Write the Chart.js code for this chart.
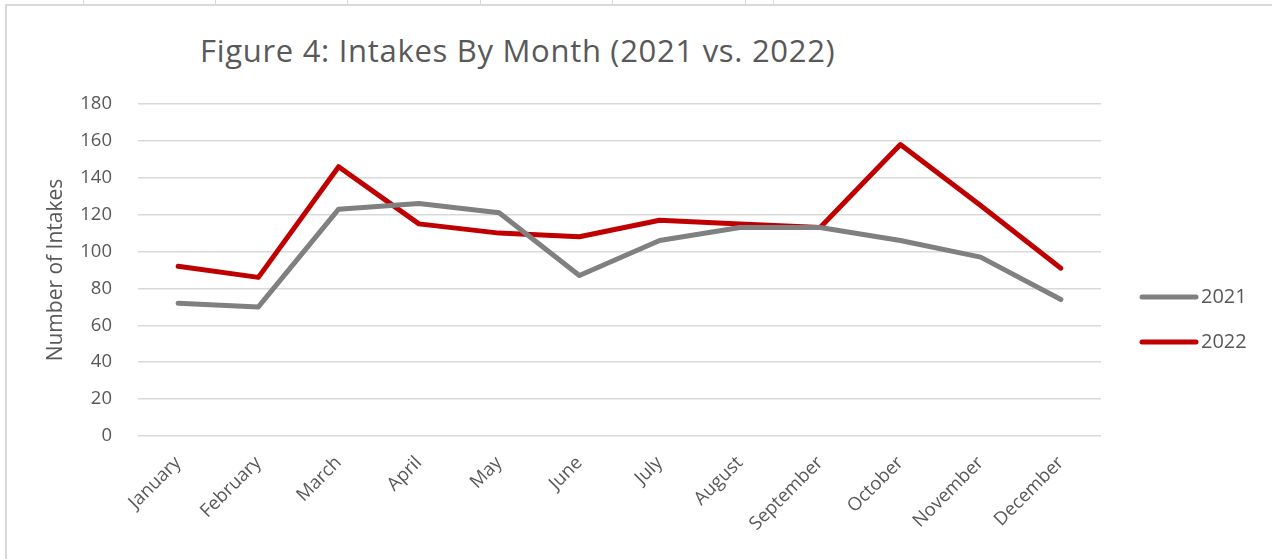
<!DOCTYPE html>
<html lang="en">
<head>
  <meta charset="UTF-8" />
  <title>Figure 4: Intakes By Month</title>
  <script src="https://cdn.jsdelivr.net/npm/chart.js"></script>
  <style>
    html, body { margin: 0; padding: 0; background: #fff; }
    body { width: 1272px; height: 559px; position: relative; overflow: hidden; }
    #frame { position: absolute; left: 5px; top: 4px; right: -4px; bottom: -4px;
             border-left: 2px solid #d9d9d9; border-top: 2px solid #d9d9d9; }
    .cell { position: absolute; top: 0; height: 4px; width: 1px; background: #d9d9d9; }
    #chartTitle { position: absolute; left: 200px; top: 29px; margin: 0;
                  font-family: "Open Sans", sans-serif; font-weight: 400; font-size: 31px;
                  letter-spacing: 0.7px; color: #595959; white-space: nowrap; }
    canvas { position: absolute; left: 0; top: 0; }
  </style>
</head>
<body>

  <!-- table row and chart frame -->
  <div class="cell" style="left: 83px;"></div>
  <div class="cell" style="left: 215px;"></div>
  <div class="cell" style="left: 347px;"></div>
  <div class="cell" style="left: 480px;"></div>
  <div class="cell" style="left: 612px;"></div>
  <div class="cell" style="left: 745px;"></div>
  <div class="cell" style="left: 773px;"></div>
  <div id="frame"></div>

  <h1 id="chartTitle">Figure 4: Intakes By Month (2021 vs. 2022)</h1>
  <canvas id="intakesChart" width="1272" height="559"></canvas>

  <script>
    const months = ["January", "February", "March", "April", "May", "June",
                    "July", "August", "September", "October", "November", "December"];
    const intakes2021 = [72, 70, 123, 126, 121, 87, 106, 113, 113, 106, 97, 74];
    const intakes2022 = [92, 86, 146, 115, 110, 108, 117, 115, 113, 158, 125, 91];
    const seriesNames = ["2021", "2022"];
    const yMin = 0;
    const yMax = 180;
    const yStep = 20;

    const textColor = "#595959";
    Chart.defaults.font.family = '"Open Sans", sans-serif';
    Chart.defaults.color = textColor;

    // Excel-style legend: a short thick line and the year, right of the plot
    const lineLegend = {
      id: "lineLegend",
      afterDraw(chart) {
        const { ctx, chartArea } = chart;
        const x = chartArea.right + 41;
        const mid = (chartArea.top + chartArea.bottom) / 2;
        chart.data.datasets.forEach((ds, i) => {
          const y = mid + 27 + i * 45;
          ctx.save();
          ctx.strokeStyle = ds.borderColor;
          ctx.lineWidth = 5;
          ctx.lineCap = "round";
          ctx.beginPath();
          ctx.moveTo(x, y);
          ctx.lineTo(x + 54, y);
          ctx.stroke();
          ctx.fillStyle = textColor;
          ctx.font = '20px "Open Sans", sans-serif';
          ctx.textBaseline = "middle";
          ctx.fillText(ds.label, x + 59, y);
          ctx.restore();
        });
      }
    };

    const ctx = document.getElementById("intakesChart").getContext("2d");
    new Chart(ctx, {
      type: "line",
      data: {
        labels: months,
        datasets: [
          {
            label: seriesNames[0],
            data: intakes2021,
            borderColor: "#808080",
            borderWidth: 5,
            pointRadius: 0,
            borderJoinStyle: "round",
            borderCapStyle: "round",
            tension: 0
          },
          {
            label: seriesNames[1],
            data: intakes2022,
            borderColor: "#c00000",
            borderWidth: 5,
            pointRadius: 0,
            borderJoinStyle: "round",
            borderCapStyle: "round",
            tension: 0
          }
        ]
      },
      options: {
        responsive: false,
        animation: false,
        layout: { padding: { top: 104, right: 171, bottom: 0, left: 0 } },
        plugins: {
          legend: { display: false },
          title: { display: false },
          tooltip: { enabled: false }
        },
        scales: {
          x: {
            offset: true,
            grid: { display: false, drawTicks: false },
            border: { display: false },
            ticks: {
              minRotation: 45,
              maxRotation: 45,
              padding: 16,
              font: { size: 18.5 },
              color: textColor
            },
            afterFit(scale) { scale.height = 123; }
          },
          y: {
            min: yMin,
            max: yMax,
            grid: { color: "#d9d9d9", lineWidth: 1.5, drawTicks: false },
            border: { display: false },
            ticks: {
              stepSize: yStep,
              padding: 26,
              font: { size: 18.5 },
              color: textColor
            },
            title: {
              display: true,
              text: "Number of Intakes",
              font: { size: 21 },
              color: textColor,
              padding: { top: 43, bottom: 0 }
            },
            afterFit(scale) { scale.width = 138; }
          }
        }
      },
      plugins: [lineLegend]
    });
  </script>

</body>
</html>
